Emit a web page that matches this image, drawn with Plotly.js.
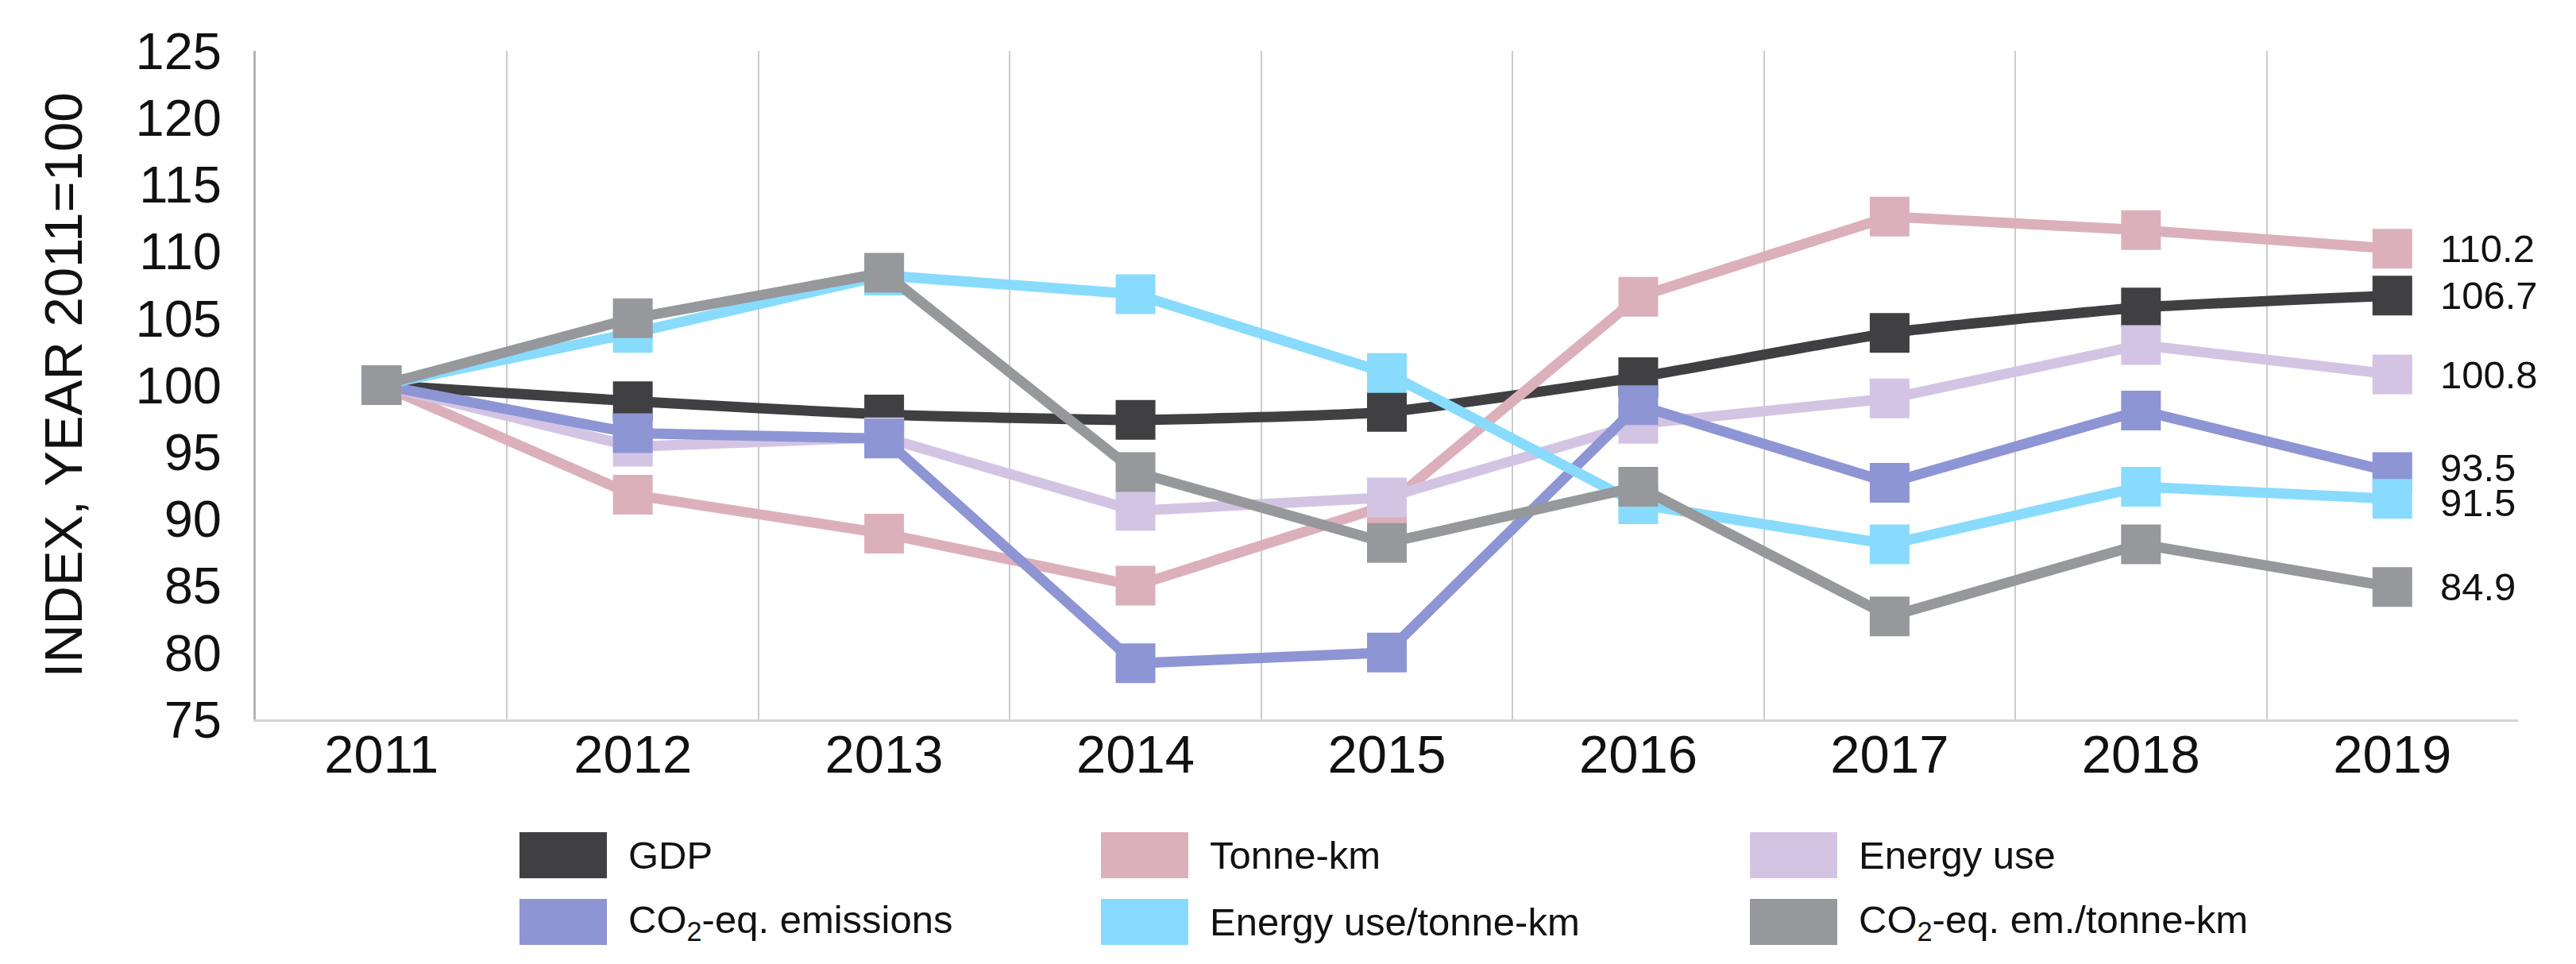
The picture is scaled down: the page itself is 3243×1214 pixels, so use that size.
<!DOCTYPE html>
<html>
<head>
<meta charset="utf-8">
<script src="https://cdn.plot.ly/plotly-3.0.1.min.js"></script>
<style>html,body{margin:0;padding:0;background:#fff;}#chart{width:3243px;height:1214px;}</style>
</head>
<body>
<div id="chart"></div>
<script>
// ---- data ----
const years = ["2011","2012","2013","2014","2015","2016","2017","2018","2019"];
const seriesNames = ["GDP","Tonne-km","Energy use","CO<sub>2</sub>-eq. emissions","Energy use/tonne-km","CO<sub>2</sub>-eq. em./tonne-km"];
const gdp          = [100, 98.8, 97.8, 97.4, 98.0, 100.6, 103.9, 105.8, 106.7];
const tonneKm      = [100, 91.8, 88.9, 85.0, 91.0, 106.6, 112.6, 111.6, 110.2];
const energyUse    = [100, 95.4, 96.1, 90.6, 91.6, 97.1, 99.0, 103.0, 100.8];
const co2Emissions = [100, 96.4, 96.0, 79.2, 80.0, 98.5, 92.7, 98.1, 93.5];
const energyPerTkm = [100, 103.9, 108.2, 106.8, 100.9, 91.1, 88.1, 92.4, 91.5];
const co2PerTkm    = [100, 105.0, 108.4, 93.5, 88.2, 92.4, 82.7, 88.1, 84.9];
const yTicks = [75,80,85,90,95,100,105,110,115,120,125];

const allSeries = [gdp, tonneKm, energyUse, co2Emissions, energyPerTkm, co2PerTkm];
const colors = ["#404042","#dcb0bb","#d4c4e4","#8e95d4","#88dbfd","#96989b"];

// ---- layout geometry (pixels) ----
const W = 3243, H = 1214;
const L = 322, R = 3170, T = 64, B = 906;
const px2x = p => (p - L) / (R - L);
const px2y = p => (B - p) / (B - T);

const FONT = "Liberation Sans, Arial, sans-serif";

const traces = allSeries.map((vals, i) => ({
  type: "scatter",
  mode: "lines+markers",
  x: years,
  y: vals,
  name: seriesNames[i],
  showlegend: false,
  line: {color: colors[i], width: 13, shape: i === 0 ? "spline" : "linear", smoothing: 0.5},
  marker: {symbol: "square", size: 50, color: colors[i], line: {width: 0}},
  hoverinfo: "x+y+name"
}));

const annotations = [];
// end-value labels (x given as category index of the last year); nudge apart labels that are very close
const lastVals = allSeries.map(v => v[v.length - 1]);
allSeries.forEach((vals, i) => {
  const lastIdx = vals.length - 1;
  const last = vals[lastIdx];
  let yshift = 0;
  lastVals.forEach((o, j) => {
    if (j !== i && Math.abs(o - last) < 2.5) yshift += (last > o ? 5 : -5);
  });
  annotations.push({
    x: lastIdx, y: last, xref: "x", yref: "y",
    text: last.toFixed(1), showarrow: false, xanchor: "left", yanchor: "middle",
    xshift: 58, yshift: yshift, font: {family: FONT, size: 49, color: "#111"}
  });
});

// custom legend
const shapes = [];
const colSym = [654, 1386, 2203];
const rowC = [1077, 1161];
const symW = 110, symH = 58, textGap = 25;
seriesNames.forEach((name, i) => {
  const col = i % 3, row = Math.floor(i / 3);
  const x0 = colSym[col], yc = rowC[row];
  shapes.push({
    type: "rect", xref: "paper", yref: "paper",
    x0: px2x(x0), x1: px2x(x0 + symW), y0: px2y(yc + symH / 2), y1: px2y(yc - symH / 2),
    fillcolor: colors[i], line: {width: 0}, layer: "above"
  });
  annotations.push({
    xref: "paper", yref: "paper", x: px2x(x0 + symW + textGap), y: px2y(yc),
    text: name, showarrow: false, xanchor: "left", yanchor: "middle",
    font: {family: FONT, size: 49, color: "#111"}
  });
});

const layout = {
  width: W, height: H,
  margin: {l: L, r: W - R, t: T, b: H - B, pad: 0},
  paper_bgcolor: "#fff", plot_bgcolor: "#fff",
  showlegend: false,
  font: {family: FONT, color: "#111"},
  xaxis: {
    type: "category", range: [-0.5, 8.5], tickson: "boundaries",
    showgrid: true, gridcolor: "#cccccc", gridwidth: 2,
    showline: true, linecolor: "#d4d4d4", linewidth: 3,
    ticks: "", ticklabelstandoff: -16,
    tickfont: {family: FONT, size: 67, color: "#111"},
    zeroline: false, fixedrange: true
  },
  yaxis: {
    range: [75, 125], tickvals: yTicks, ticktext: yTicks.map(String),
    showgrid: false, zeroline: false,
    showline: true, linecolor: "#b4b4b4", linewidth: 3,
    ticks: "outside", ticklen: 27, tickcolor: "rgba(0,0,0,0)",
    tickfont: {family: FONT, size: 65, color: "#111"},
    title: {text: "INDEX, YEAR 2011=100", font: {family: FONT, size: 67, color: "#111"}, standoff: 46},
    fixedrange: true
  },
  shapes: shapes,
  annotations: annotations
};

Plotly.newPlot("chart", traces, layout, {displayModeBar: false, staticPlot: true});
</script>
</body>
</html>
